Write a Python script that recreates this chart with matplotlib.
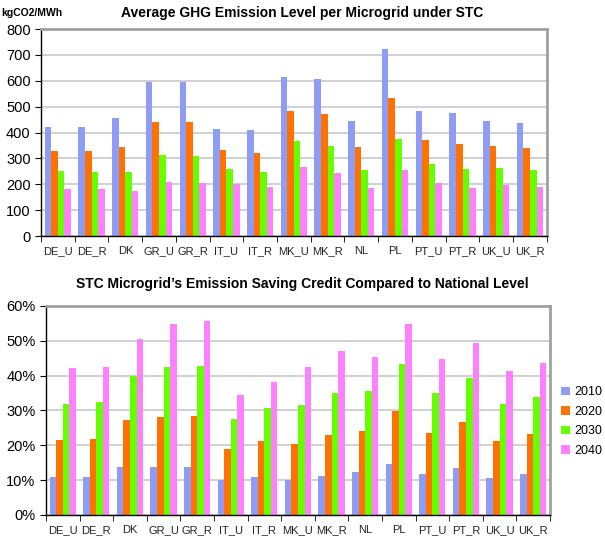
import matplotlib
matplotlib.use("Agg")
import matplotlib.pyplot as plt
import numpy as np

plt.rcParams['font.family'] = ['Liberation Sans', 'DejaVu Sans']

categories = ["DE_U", "DE_R", "DK", "GR_U", "GR_R", "IT_U", "IT_R", "MK_U",
              "MK_R", "NL", "PL", "PT_U", "PT_R", "UK_U", "UK_R"]
years = ["2010", "2020", "2030", "2040"]

emis_2010 = [422, 421, 457, 596, 596, 415, 410, 614, 606, 446, 725, 483, 474, 444, 437]
emis_2020 = [330, 328, 343, 440, 440, 332, 320, 485, 470, 343, 532, 372, 356, 348, 339]
emis_2030 = [252, 249, 246, 312, 308, 259, 249, 366, 347, 257, 374, 277, 261, 265, 257]
emis_2040 = [183, 183, 175, 209, 206, 201, 191, 266, 245, 186, 257, 204, 186, 199, 188]

save_2010 = [10.8, 11.0, 13.7, 13.9, 13.9, 9.9, 10.8, 10.0, 11.2, 12.2, 14.7, 11.8, 13.4, 10.6, 11.8]
save_2020 = [21.4, 21.7, 27.3, 28.2, 28.5, 18.9, 21.2, 20.4, 23.0, 24.1, 29.8, 23.5, 26.8, 21.2, 23.3]
save_2030 = [31.9, 32.4, 40.0, 42.4, 42.8, 27.5, 30.6, 31.4, 35.0, 35.5, 43.3, 35.0, 39.3, 31.8, 33.9]
save_2040 = [42.1, 42.4, 50.5, 54.9, 55.5, 34.3, 38.2, 42.3, 46.9, 45.4, 54.7, 44.8, 49.4, 41.3, 43.5]

colors = ["#8f9cf5", "#ff7200", "#66ff00", "#ff80ff"]

fig = plt.figure(figsize=(6.05, 5.49), dpi=100)
ax1 = fig.add_axes([0.0678, 0.570, 0.836, 0.377])
ax2 = fig.add_axes([0.076, 0.062, 0.833, 0.381])

x = np.arange(len(categories))
w = 0.195

def style(ax, ymax, ystep):
    ax.set_xlim(-0.5, len(categories) - 0.5)
    ax.set_ylim(0, ymax)
    ax.set_yticks(np.arange(0, ymax + 1e-9, ystep))
    ax.yaxis.grid(True, color="#c8c8c8", linewidth=1.2)
    ax.set_axisbelow(True)
    for s in ["top", "right"]:
        ax.spines[s].set_color("#a0a0a0")
        ax.spines[s].set_linewidth(2)
    for s in ["left", "bottom"]:
        ax.spines[s].set_color("black")
        ax.spines[s].set_linewidth(1)
    ax.set_xticks(x)
    ax.set_xticklabels(categories, fontsize=8, color="#222222")
    ax.tick_params(axis="x", which="major", length=0, pad=7)
    ax.set_xticks(np.arange(-0.5, len(categories)), minor=True)
    ax.tick_params(axis="x", which="minor", length=4, direction="out", color="black")
    ax.tick_params(axis="y", length=4, direction="out", labelsize=10.5)

series1 = [emis_2010, emis_2020, emis_2030, emis_2040]
for i, (vals, c) in enumerate(zip(series1, colors)):
    ax1.bar(x + (i - 1.5) * w, vals, width=w, color=c, linewidth=0)
style(ax1, 800, 100)
fig.text(0.5, 0.977, "Average GHG Emission Level per Microgrid under STC",
         ha="center", va="center", fontsize=10, fontweight="bold")
fig.text(0.002, 0.977, "kgCO2/MWh", ha="left", va="center", fontsize=7.5, fontweight="bold")

series2 = [save_2010, save_2020, save_2030, save_2040]
for i, (vals, c, yr) in enumerate(zip(series2, colors, years)):
    ax2.bar(x + (i - 1.5) * w, vals, width=w, color=c, linewidth=0, label=yr)
style(ax2, 60, 10)
ax2.set_yticklabels([f"{v}%" for v in range(0, 61, 10)])
fig.text(0.5, 0.482, "STC Microgrid\u2019s Emission Saving Credit Compared to National Level",
         ha="center", va="center", fontsize=10, fontweight="bold")

leg = fig.legend(loc="center left", bbox_to_anchor=(0.928, 0.232), frameon=False,
                 fontsize=9, handlelength=0.7, handleheight=0.7, handletextpad=0.3,
                 labelspacing=0.6, borderpad=0, borderaxespad=0)

fig.savefig("out.png", dpi=100)
